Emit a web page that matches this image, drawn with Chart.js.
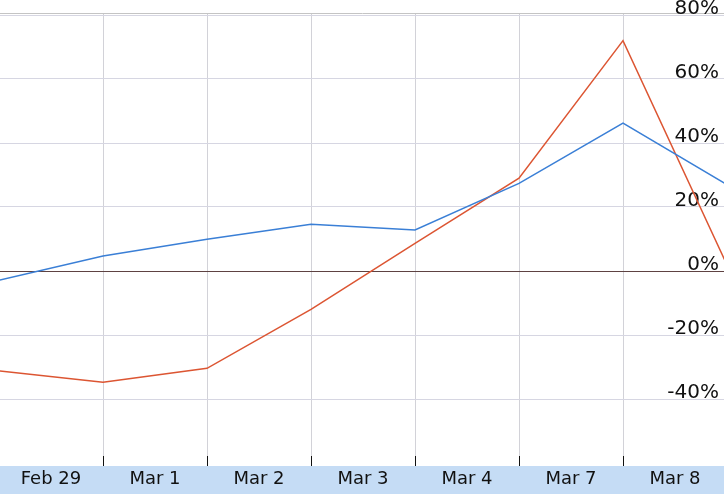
<!DOCTYPE html>
<html>
<head>
<meta charset="utf-8">
<script src="https://cdn.jsdelivr.net/npm/chart.js@4/dist/chart.umd.min.js"></script>
<style>
  html, body { margin: 0; padding: 0; background: #fff; }
  #wrap { width: 724px; height: 494px; position: relative; }
</style>
</head>
<body>
<div id="wrap"><canvas id="grafico"></canvas></div>
<script>
// days shown in the bottom band (label sits between two day boundaries)
const dias = ["Feb 29", "Mar 1", "Mar 2", "Mar 3", "Mar 4", "Mar 7", "Mar 8"];
// data point positions (day boundaries); 0 and 7 fall just outside the view
const posiciones = [0, 1, 2, 3, 4, 5, 6, 7];
const serieAzul = [-2.9, 4.7, 9.9, 14.6, 12.8, 27.4, 46.2, 27.0];
const serieNaranja = [-31.2, -34.8, -30.4, -12.0, 8.6, 29.0, 72.0, 1.9];
const marcasY = [-40, -20, 0, 20, 40, 60, 80];

const puntos = (vals) => posiciones.map((p, i) => ({ x: p, y: vals[i] }));

const bandaEje = {
    id: 'bandaEje',
    beforeDraw(chart) {
        const { ctx, scales: { x } } = chart;
        ctx.save();
        ctx.fillStyle = '#c5dcf5';
        ctx.fillRect(0, x.top, chart.width, chart.height - x.top);
        ctx.restore();
    }
};

const esMitad = (v) => Math.abs(v % 1 - 0.5) < 0.01;

new Chart(document.getElementById('grafico'), {
    type: 'line',
    data: {
        datasets: [
            {
                data: puntos(serieAzul),
                borderColor: '#3a7fd6',
                borderWidth: 1.5,
                pointRadius: 0,
                tension: 0
            },
            {
                data: puntos(serieNaranja),
                borderColor: '#dc5532',
                borderWidth: 1.5,
                pointRadius: 0,
                tension: 0
            }
        ]
    },
    options: {
        responsive: true,
        maintainAspectRatio: false,
        animation: false,
        layout: { padding: { top: 13, left: 0, right: 0, bottom: 0 } },
        plugins: { legend: { display: false }, tooltip: { enabled: false } },
        scales: {
            x: {
                type: 'linear',
                position: 'bottom',
                min: 1 - 103 / 104,
                max: 1 + 621 / 104,
                afterBuildTicks: (axis) => {
                    const t = [];
                    for (let v = 0.5; v <= 6.5; v += 0.5) t.push({ value: v });
                    axis.ticks = t;
                },
                afterFit: (axis) => { axis.height = 28; },
                border: { display: false },
                grid: {
                    color: (c) => (c.tick && esMitad(c.tick.value)) ? 'rgba(0,0,0,0)' : '#d2d2d8',
                    tickColor: (c) => (c.tick && esMitad(c.tick.value)) ? 'rgba(0,0,0,0)' : '#111',
                    tickLength: -10,
                    lineWidth: 1
                },
                ticks: {
                    autoSkip: false,
                    maxRotation: 0,
                    padding: 13,
                    color: '#111',
                    font: { family: 'DejaVu Sans', size: 18 },
                    callback: (v) => esMitad(v) ? dias[Math.floor(v)] : ''
                }
            },
            xt: {
                type: 'linear',
                position: 'top',
                min: 0,
                max: 1,
                border: { display: true, color: '#c4c4c4', width: 1 },
                grid: { display: false, drawTicks: false },
                ticks: { display: false }
            },
            y: {
                position: 'right',
                min: -(466 - 271) / 3.2,
                max: (271 - 13) / 3.2,
                afterBuildTicks: (axis) => { axis.ticks = marcasY.map(v => ({ value: v })); },
                afterFit: (axis) => {
                    axis.width = 0;
                    axis.paddingTop = 0;
                    axis.paddingBottom = 0;
                },
                border: { display: false },
                grid: {
                    drawTicks: false,
                    color: (c) => (c.tick && c.tick.value === 0) ? '#5e4242' : '#d6d6e2',
                    lineWidth: 1
                },
                ticks: {
                    mirror: true,
                    padding: -5,
                    labelOffset: -6,
                    color: '#111',
                    font: { family: 'DejaVu Sans', size: 20 },
                    callback: (v) => v + '%'
                }
            }
        }
    },
    plugins: [bandaEje]
});
</script>
</body>
</html>
